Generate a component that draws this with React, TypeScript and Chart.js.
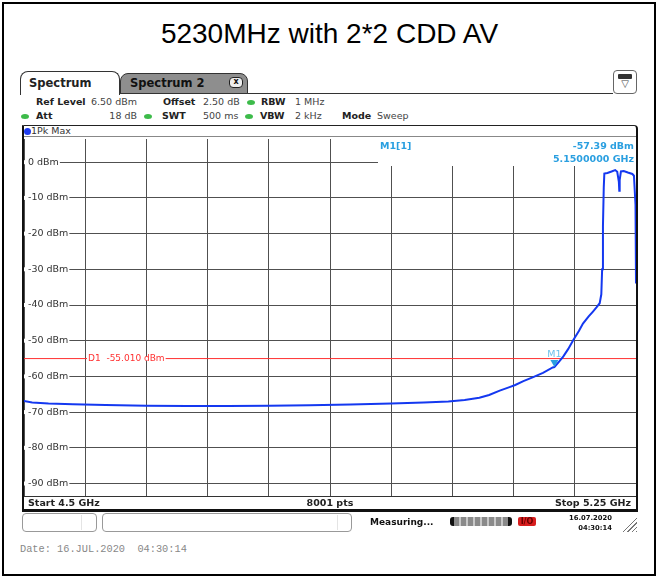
import React, { useEffect, useRef } from 'react';
import { Chart, registerables } from 'chart.js';

Chart.register(...registerables);

// ---------- data ----------
const traceFreqGHz = [
  4.5, 4.51, 4.53, 4.56, 4.6, 4.65, 4.7, 4.75, 4.8, 4.85, 4.9, 4.95, 4.99, 5.02, 5.04, 5.058,
  5.07, 5.083, 5.095, 5.102, 5.112, 5.124, 5.136, 5.148, 5.15, 5.156, 5.161, 5.167, 5.173,
  5.18, 5.185, 5.192, 5.197, 5.2018, 5.2055, 5.2075, 5.2085, 5.2095, 5.2105, 5.2112, 5.215,
  5.22, 5.2245, 5.227, 5.229, 5.2295, 5.230, 5.2315, 5.235, 5.24, 5.2455, 5.2475, 5.2494, 5.25,
];
const traceLevelDbm = [
  -66.9, -67.3, -67.6, -67.8, -68.0, -68.2, -68.3, -68.3, -68.2, -68.1, -67.9, -67.6, -67.3,
  -67.0, -66.6, -66.0, -65.2, -64.0, -63.0, -62.4, -61.3, -60.2, -59.0, -57.5, -57.39, -55.8,
  -54.4, -52.3, -49.9, -47.3, -45.2, -43.2, -41.9, -40.6, -39.5, -37.0, -30.0, -18.0, -7.0,
  -3.2, -3.0, -2.6, -2.2, -2.7, -5.5, -8.0, -5.0, -2.6, -2.5, -2.9, -3.3, -3.8, -12.0, -34.0,
];
const yTickValuesDbm = [0, -10, -20, -30, -40, -50, -60, -70, -80, -90];
const startFreqGHz = 4.5;
const stopFreqGHz = 5.25;
const xDivisions = 10;
const refLevelDbm = 6.5;
const bottomLevelDbm = -93.5;
const sweepPoints = 8001;
const displayLineDbm = -55.01;
const markerFreqGHz = 5.15;
const markerLevelDbm = -57.39;

const SANS = '"DejaVu Sans", "Noto Sans", sans-serif';
const MARK_BLUE = '#2a9fe0';

const overlayPlugin = {
  id: 'rsOverlay',
  beforeDatasetsDraw(chart: any) {
    const { ctx, chartArea, scales } = chart;
    const ys = scales.y;
    ctx.save();
    ctx.font = `9.5px ${SANS}`;
    ctx.textBaseline = 'middle';
    yTickValuesDbm.forEach((v) => {
      const py = ys.getPixelForValue(v);
      const label = `${v} dBm`;
      const w = ctx.measureText(label).width;
      ctx.fillStyle = '#ffffff';
      ctx.fillRect(chartArea.left, py - 2, 4 + w + 1, 4);
      ctx.fillStyle = '#333333';
      ctx.fillText(label, chartArea.left + 4, py);
    });
    // marker info box
    const bx = chartArea.left + 354;
    ctx.fillStyle = '#ffffff';
    ctx.fillRect(bx, chartArea.top, chartArea.right - bx, 27);
    ctx.font = `bold 9.5px ${SANS}`;
    ctx.fillStyle = MARK_BLUE;
    ctx.textAlign = 'left';
    ctx.fillText('M1[1]', bx + 2, 8);
    ctx.textAlign = 'right';
    ctx.fillText(`${markerLevelDbm.toFixed(2)} dBm`, chartArea.right - 2, 8);
    ctx.fillText(`${markerFreqGHz.toFixed(7)} GHz`, chartArea.right - 2, 21);
    ctx.restore();
  },
  afterDatasetsDraw(chart: any) {
    const { ctx, chartArea, scales } = chart;
    const xs = scales.x;
    const ys = scales.y;
    ctx.save();
    // D1 label
    ctx.font = `9px ${SANS}`;
    ctx.textBaseline = 'middle';
    const dy = ys.getPixelForValue(displayLineDbm);
    const dl = `D1  ${displayLineDbm.toFixed(3)} dBm`;
    const dw = ctx.measureText(dl).width;
    ctx.fillStyle = '#ffffff';
    ctx.fillRect(chartArea.left + 63, dy - 2, dw + 2, 4);
    ctx.fillStyle = '#ff3030';
    ctx.fillText(dl, chartArea.left + 64, dy);
    // M1 marker
    const mx = xs.getPixelForValue(markerFreqGHz);
    const my = ys.getPixelForValue(markerLevelDbm);
    ctx.fillStyle = MARK_BLUE;
    ctx.beginPath();
    ctx.moveTo(mx - 4, my - 7);
    ctx.lineTo(mx + 4, my - 7);
    ctx.lineTo(mx, my);
    ctx.closePath();
    ctx.fill();
    ctx.fillStyle = '#6cc0ea';
    ctx.font = `9.5px ${SANS}`;
    ctx.textAlign = 'center';
    ctx.fillText('M1', mx, my - 13);
    ctx.restore();
  },
};

function SpectrumChart() {
  const ref = useRef<HTMLCanvasElement | null>(null);
  useEffect(() => {
    if (!ref.current) return;
    const trace = traceFreqGHz.map((f, i) => ({ x: f, y: traceLevelDbm[i] }));
    const chart = new Chart(ref.current, {
      type: 'line',
      data: {
        datasets: [
          {
            data: trace,
            borderColor: '#1438f0',
            borderWidth: 2,
            pointRadius: 0,
            tension: 0,
            order: 0,
          },
          {
            data: [
              { x: startFreqGHz, y: displayLineDbm },
              { x: stopFreqGHz, y: displayLineDbm },
            ],
            borderColor: '#ff3030',
            borderWidth: 1,
            pointRadius: 0,
            order: 1,
          },
        ],
      },
      options: {
        animation: false,
        responsive: false,
        maintainAspectRatio: false,
        layout: { padding: 0 },
        plugins: { legend: { display: false }, tooltip: { enabled: false } },
        scales: {
          x: {
            type: 'linear',
            min: startFreqGHz,
            max: stopFreqGHz,
            border: { display: false },
            grid: { color: '#505050', lineWidth: 1, drawTicks: false },
            ticks: { display: false },
            afterBuildTicks: (scale: any) => {
              const step = (stopFreqGHz - startFreqGHz) / xDivisions;
              scale.ticks = Array.from({ length: xDivisions + 1 }, (_, i) => ({
                value: startFreqGHz + i * step,
              }));
            },
          },
          y: {
            type: 'linear',
            min: bottomLevelDbm,
            max: refLevelDbm,
            border: { display: false },
            grid: { color: '#505050', lineWidth: 1, drawTicks: false },
            ticks: { display: false },
            afterBuildTicks: (scale: any) => {
              scale.ticks = yTickValuesDbm.map((v) => ({ value: v }));
            },
          },
        },
      },
      plugins: [overlayPlugin],
    } as any);
    return () => chart.destroy();
  }, []);
  return (
    <canvas
      ref={ref}
      width={612}
      height={357}
      style={{ position: 'absolute', left: 24, top: 139, width: 612, height: 357 }}
    />
  );
}

function T(props: {
  x: number;
  cy: number;
  s?: number;
  b?: boolean;
  c?: string;
  right?: boolean;
  center?: boolean;
  font?: string;
  children: React.ReactNode;
}) {
  const { x, cy, s = 9.5, b, c = '#222', right, center, font = SANS, children } = props;
  const st: React.CSSProperties = {
    position: 'absolute',
    top: cy - 8,
    height: 16,
    lineHeight: '16px',
    fontSize: s,
    fontWeight: b ? 'bold' : 'normal',
    color: c,
    fontFamily: font,
    whiteSpace: 'pre',
  };
  if (right) st.right = 659 - x;
  else if (center) {
    st.left = x - 100;
    st.width = 200;
    st.textAlign = 'center';
  } else st.left = x;
  return <div style={st}>{children}</div>;
}

function Dot({ x, cy, c = '#3dbb4a' }: { x: number; cy: number; c?: string }) {
  return (
    <div
      style={{
        position: 'absolute',
        left: x - 4,
        top: cy - 2.5,
        width: 8,
        height: 5,
        borderRadius: '50%',
        background: c,
      }}
    />
  );
}

function Box(props: { l: number; t: number; w: number; h: number; style?: React.CSSProperties }) {
  return (
    <div
      style={{
        position: 'absolute',
        left: props.l,
        top: props.t,
        width: props.w,
        height: props.h,
        boxSizing: 'border-box',
        ...props.style,
      }}
    />
  );
}

export default function App() {
  return (
    <div
      style={{
        position: 'absolute',
        left: 0,
        top: 0,
        width: 659,
        height: 578,
        background: '#fff',
        overflow: 'hidden',
      }}
    >
      {/* outer frame */}
      <Box l={2} t={2} w={654} h={574} style={{ border: '2px solid #000' }} />
      {/* title */}
      <div
        style={{
          position: 'absolute',
          left: 0,
          top: 16,
          width: 659,
          height: 36,
          lineHeight: '36px',
          textAlign: 'center',
          fontFamily: '"Liberation Sans", Arial, sans-serif',
          fontSize: 28,
          color: '#000',
        }}
      >
        5230MHz with 2*2 CDD AV
      </div>

      {/* tabs */}
      <Box l={120} t={93} w={493} h={1} style={{ background: '#333' }} />
      <Box
        l={20}
        t={71}
        w={100}
        h={24}
        style={{ border: '1px solid #333', borderBottom: 'none', borderRadius: '8px 8px 0 0', background: '#fff' }}
      />
      <T x={29} cy={83} s={11.5} b c="#222">Spectrum</T>
      <Box
        l={120}
        t={73}
        w={128}
        h={21}
        style={{ border: '1px solid #333', borderRadius: '8px 8px 0 0', background: '#8e8e8e' }}
      />
      <T x={130} cy={83} s={11.5} b c="#111">Spectrum 2</T>
      <div
        style={{
          position: 'absolute',
          left: 229,
          top: 77,
          width: 14,
          height: 11,
          boxSizing: 'border-box',
          border: '1.5px solid #222',
          borderRadius: 4,
          background: '#eee',
          fontFamily: SANS,
          fontSize: 8,
          fontWeight: 'bold',
          lineHeight: '8px',
          textAlign: 'center',
          color: '#111',
        }}
      >
        x
      </div>
      {/* right icon */}
      <Box l={613} t={70} w={24} h={24} style={{ border: '1px solid #666', borderRadius: 4, background: '#fff' }} />
      <Box l={618} t={74} w={14} h={5} style={{ background: '#333', borderRadius: 1 }} />
      <div
        style={{
          position: 'absolute',
          left: 613,
          top: 78,
          width: 24,
          textAlign: 'center',
          fontSize: 10,
          lineHeight: '12px',
          fontFamily: SANS,
          color: '#444',
        }}
      >
        ▽
      </div>

      {/* info rows */}
      <T x={36} cy={102} b>Ref Level</T>
      <T x={91} cy={102} c="#444">{refLevelDbm.toFixed(2)} dBm</T>
      <T x={163} cy={102} b>Offset</T>
      <T x={203} cy={102} c="#444">2.50 dB</T>
      <Dot x={251} cy={102} />
      <T x={261} cy={102} b>RBW</T>
      <T x={295} cy={102} c="#444">1 MHz</T>

      <Dot x={25} cy={116} />
      <T x={36} cy={116} b>Att</T>
      <T x={137} cy={116} right c="#444">18 dB</T>
      <Dot x={148} cy={116} />
      <T x={162} cy={116} b>SWT</T>
      <T x={203} cy={116} c="#444">500 ms</T>
      <Dot x={249} cy={116} />
      <T x={260} cy={116} b>VBW</T>
      <T x={295} cy={116} c="#444">2 kHz</T>
      <T x={342} cy={116} b>Mode</T>
      <T x={377} cy={116} c="#444">Sweep</T>

      {/* plot frame */}
      <Box
        l={22}
        t={125}
        w={616}
        h={387}
        style={{
          borderLeft: '2px solid #111',
          borderRight: '2px solid #111',
          borderTop: '1px solid #222',
          borderBottom: '3px solid #111',
          borderTopRightRadius: 4,
        }}
      />
      <div
        style={{
          position: 'absolute',
          left: 23.5,
          top: 127.5,
          width: 7,
          height: 7,
          borderRadius: '50%',
          background: '#1e3cf0',
        }}
      />
      <T x={31} cy={131} s={9.5} c="#333">1Pk Max</T>
      <Box l={24} t={136} w={612} h={1} style={{ background: '#888' }} />

      <SpectrumChart />

      <Box l={24} t={496} w={612} h={1} style={{ background: '#333' }} />
      <T x={28} cy={503} b>Start {startFreqGHz} GHz</T>
      <T x={330} cy={503} b center>{sweepPoints} pts</T>
      <T x={631} cy={503} b right>Stop {stopFreqGHz} GHz</T>

      {/* status bar */}
      <Box l={22} t={513} w={75} h={19} style={{ border: '1px solid #999', borderRadius: 4 }} />
      <Box l={81} t={515} w={1} h={15} style={{ background: '#e4e4e4' }} />
      <Box l={102} t={513} w={250} h={19} style={{ border: '1px solid #999', borderRadius: 4 }} />
      <Box l={337} t={515} w={1} h={15} style={{ background: '#e4e4e4' }} />
      <T x={370} cy={522} s={9} b c="#111">Measuring...</T>
      <div
        style={{
          position: 'absolute',
          left: 450,
          top: 517,
          width: 62,
          height: 9,
          boxSizing: 'border-box',
          borderLeft: '4px solid #111',
          borderRight: '4px solid #111',
          borderRadius: 3,
          background: 'repeating-linear-gradient(90deg, #8a8a8a 0px, #8a8a8a 5px, #c8c8c8 5px, #c8c8c8 7px)',
        }}
      />
      <div
        style={{
          position: 'absolute',
          left: 518,
          top: 517,
          width: 18,
          height: 9,
          background: '#d81e1e',
          borderRadius: 2,
          fontFamily: SANS,
          fontSize: 8,
          lineHeight: '9px',
          fontWeight: 'bold',
          color: '#600',
          textAlign: 'center',
        }}
      >
        I/O
      </div>
      <T x={612} cy={518} s={6.8} b right c="#111">16.07.2020</T>
      <T x={612} cy={528} s={6.8} b right c="#111">04:30:14</T>
      <div
        style={{
          position: 'absolute',
          left: 622,
          top: 517,
          width: 15,
          height: 15,
          clipPath: 'polygon(100% 0, 100% 100%, 0 100%)',
          background: 'repeating-linear-gradient(135deg, #fff 0px, #fff 2px, #777 2px, #777 3px)',
        }}
      />

      {/* date line */}
      <T x={20} cy={549} s={10.3} c="#888" font='"Liberation Mono", "DejaVu Sans Mono", monospace'>
        Date: 16.JUL.2020  04:30:14
      </T>
    </div>
  );
}
